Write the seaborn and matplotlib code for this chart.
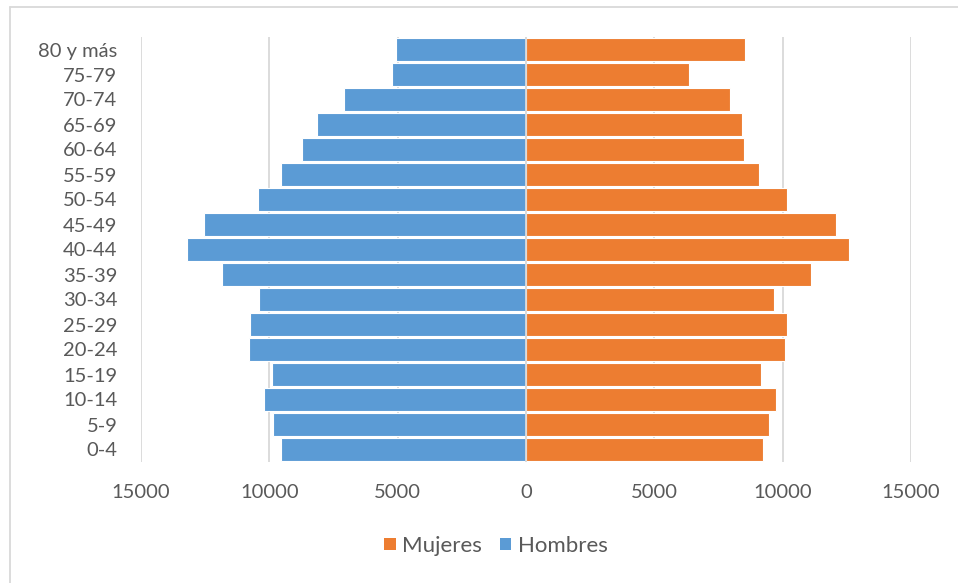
import matplotlib
matplotlib.use("Agg")
import matplotlib.pyplot as plt
import seaborn as sns
import pandas as pd
from matplotlib.lines import Line2D
from matplotlib.patches import Patch

edades = ["80 y más", "75-79", "70-74", "65-69", "60-64", "55-59", "50-54", "45-49",
          "40-44", "35-39", "30-34", "25-29", "20-24", "15-19", "10-14", "5-9", "0-4"]
hombres = [5074, 5228, 7087, 8135, 8736, 9533, 10442, 12552,
           13195, 11854, 10400, 10749, 10805, 9897, 10204, 9855, 9547]
mujeres = [8532, 6338, 7935, 8429, 8481, 9078, 10182, 12065,
           12571, 11117, 9675, 10169, 10078, 9169, 9727, 9481, 9234]
ticks = [-15000, -10000, -5000, 0, 5000, 10000, 15000]
tick_labels = ["15000", "10000", "5000", "0", "5000", "10000", "15000"]

c_h = "#5B9BD5"
c_m = "#ED7D31"
txt = "#595959"
grid_c = "#D9D9D9"

df = pd.DataFrame({
    "edad": edades * 2,
    "valor": [-v for v in hombres] + mujeres,
    "sexo": ["Hombres"] * len(edades) + ["Mujeres"] * len(edades),
})

sns.set_theme(style="white")
plt.rcParams["font.family"] = ["Lato", "DejaVu Sans"]

fig = plt.figure(figsize=(9.58, 5.83), dpi=100)
ax = fig.add_axes([141 / 958, 1 - 462 / 583, (911 - 141) / 958, (462 - 37) / 583])

sns.barplot(data=df, y="edad", x="valor", hue="sexo", order=edades,
            palette={"Hombres": c_h, "Mujeres": c_m}, dodge=False, saturation=1,
            width=0.94, edgecolor="white", linewidth=0.8, legend=False,
            ax=ax, orient="h", zorder=3)

ax.set_xlim(-15000, 15000)
ax.set_ylim(len(edades) - 0.5, -0.5)
ax.set_xticks(ticks)
ax.set_xticklabels(tick_labels)
ax.set_xlabel("")
ax.set_ylabel("")
for s in ax.spines.values():
    s.set_visible(False)
ax.grid(axis="x", color=grid_c, linewidth=1.3, zorder=0)
ax.grid(axis="y", visible=False)
ax.axvline(0, color=grid_c, linewidth=1.3, zorder=4)
ax.tick_params(axis="x", length=0, pad=16, labelsize=14.5, labelcolor=txt)
ax.tick_params(axis="y", length=0, pad=17, labelsize=14.5, labelcolor=txt)

handles = [Patch(facecolor=c_m, edgecolor="none", label="Mujeres"),
           Patch(facecolor=c_h, edgecolor="none", label="Hombres")]
fig.legend(handles=handles, loc="center", bbox_to_anchor=(496 / 958, 1 - 546 / 583),
           ncol=2, frameon=False, fontsize=16, labelcolor=txt,
           handlelength=0.5, handleheight=0.5, handletextpad=0.3, columnspacing=0.8)

fig.add_artist(Line2D([10 / 958, 1], [1 - 7 / 583, 1 - 7 / 583], color=grid_c,
                      linewidth=1.3, transform=fig.transFigure))
fig.add_artist(Line2D([10 / 958, 10 / 958], [0, 1 - 7 / 583], color=grid_c,
                      linewidth=1.3, transform=fig.transFigure))

fig.savefig("out.png", dpi=100)
